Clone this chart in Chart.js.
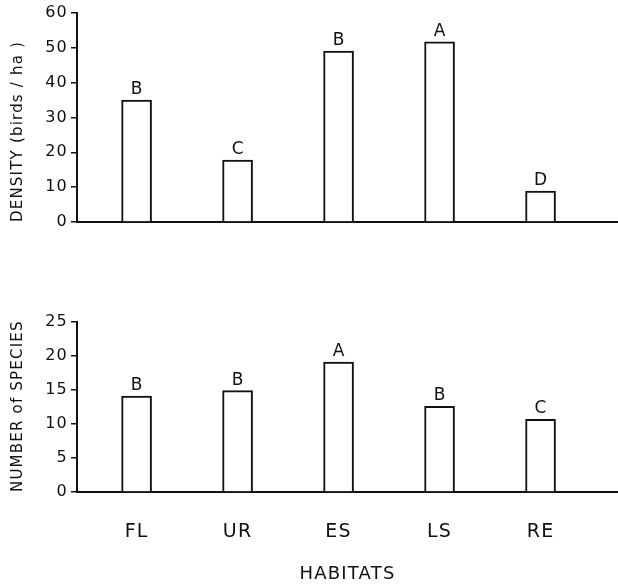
<!DOCTYPE html>
<html>
<head>
<meta charset="utf-8">
<script src="https://cdn.jsdelivr.net/npm/chart.js@4/dist/chart.umd.min.js"></script>
<style>
  html, body { margin: 0; padding: 0; background: #fff; }
  #wrap { position: relative; width: 618px; height: 587px; }
  #c1 { position: absolute; left: 0; top: 0; }
  #c2 { position: absolute; left: 0; top: 250px; }
</style>
</head>
<body>
<div id="wrap">
  <div id="c1" style="width:618px;height:240px"><canvas id="top"></canvas></div>
  <div id="c2" style="width:618px;height:337px"><canvas id="bottom"></canvas></div>
</div>
<script>
// ---- data ----
const habitats = ['FL', 'UR', 'ES', 'LS', 'RE'];
const density = [35.0, 17.8, 49.1, 51.7, 8.9];
const densityLetters = ['B', 'C', 'B', 'A', 'D'];
const species = [14.1, 14.9, 19.1, 12.6, 10.7];
const speciesLetters = ['B', 'B', 'A', 'B', 'C'];
const densityTicks = [0, 10, 20, 30, 40, 50, 60];
const speciesTicks = [0, 5, 10, 15, 20, 25];

const INK = '#111';
const FONT = "'DejaVu Sans', 'Liberation Sans', sans-serif";

const spacingPlugin = {
  id: 'spacing',
  beforeUpdate(chart) { chart.ctx.letterSpacing = '1.2px'; },
  beforeDraw(chart) { chart.ctx.letterSpacing = '1.2px'; }
};

const lettersPlugin = {
  id: 'letters',
  afterDatasetsDraw(chart, args, opts) {
    const ctx = chart.ctx;
    const meta = chart.getDatasetMeta(0);
    ctx.save();
    ctx.letterSpacing = '0px';
    ctx.fillStyle = INK;
    ctx.font = "17px " + FONT;
    ctx.textAlign = 'center';
    ctx.textBaseline = 'alphabetic';
    meta.data.forEach((el, i) => {
      ctx.fillText(opts.labels[i], el.x, el.y - 6);
    });
    ctx.restore();
  }
};

function makeChart(id, values, letters, ticks, yTitle, showX, cfg) {
  return new Chart(document.getElementById(id), {
    type: 'bar',
    data: {
      datasets: [{
        data: values.map((v, i) => ({ x: i, y: v })),
        backgroundColor: '#fff',
        borderColor: INK,
        borderWidth: 2,
        barThickness: 30
      }]
    },
    plugins: [spacingPlugin, lettersPlugin],
    options: {
      responsive: true,
      maintainAspectRatio: false,
      animation: false,
      layout: { padding: { top: cfg.padTop, left: 0, right: 0, bottom: 0 } },
      plugins: {
        legend: { display: false },
        tooltip: { enabled: false },
        letters: { labels: letters }
      },
      scales: {
        x: {
          type: 'linear',
          offset: false,
          min: -0.59,
          max: 4.767,
          afterBuildTicks(scale) { scale.ticks = habitats.map((_, i) => ({ value: i })); },
          afterFit(scale) { scale.height = cfg.xHeight; },
          grid: { display: false, drawTicks: false, offset: false },
          border: { display: true, color: INK, width: 2 },
          ticks: {
            display: showX,
            padding: 29,
            color: INK,
            font: { family: FONT, size: 19 },
            callback: (v) => habitats[v]
          },
          title: {
            display: showX,
            text: 'HABITATS',
            color: INK,
            font: { family: FONT, size: 18 },
            padding: { top: 0, bottom: 2 }
          }
        },
        y: {
          min: ticks[0],
          max: ticks[ticks.length - 1],
          afterBuildTicks(scale) { scale.ticks = ticks.map(v => ({ value: v })); },
          afterFit(scale) { scale.width = 77; },
          grid: { display: true, drawOnChartArea: false, drawTicks: true, tickLength: 6, color: INK, lineWidth: 1.5 },
          border: { display: true, color: INK, width: 2 },
          ticks: {
            padding: 3,
            color: INK,
            font: { family: FONT, size: 16 }
          },
          title: {
            display: true,
            text: yTitle,
            align: 'start',
            color: INK,
            font: { family: FONT, size: 15 },
            padding: { top: 9 }
          }
        }
      }
    }
  });
}

makeChart('top', density, densityLetters, densityTicks, 'DENSITY (birds / ha )', false, { padTop: 13, xHeight: 18 });
makeChart('bottom', species, speciesLetters, speciesTicks, 'NUMBER of SPECIES', true, { padTop: 72, xHeight: 95 });
</script>
</body>
</html>
